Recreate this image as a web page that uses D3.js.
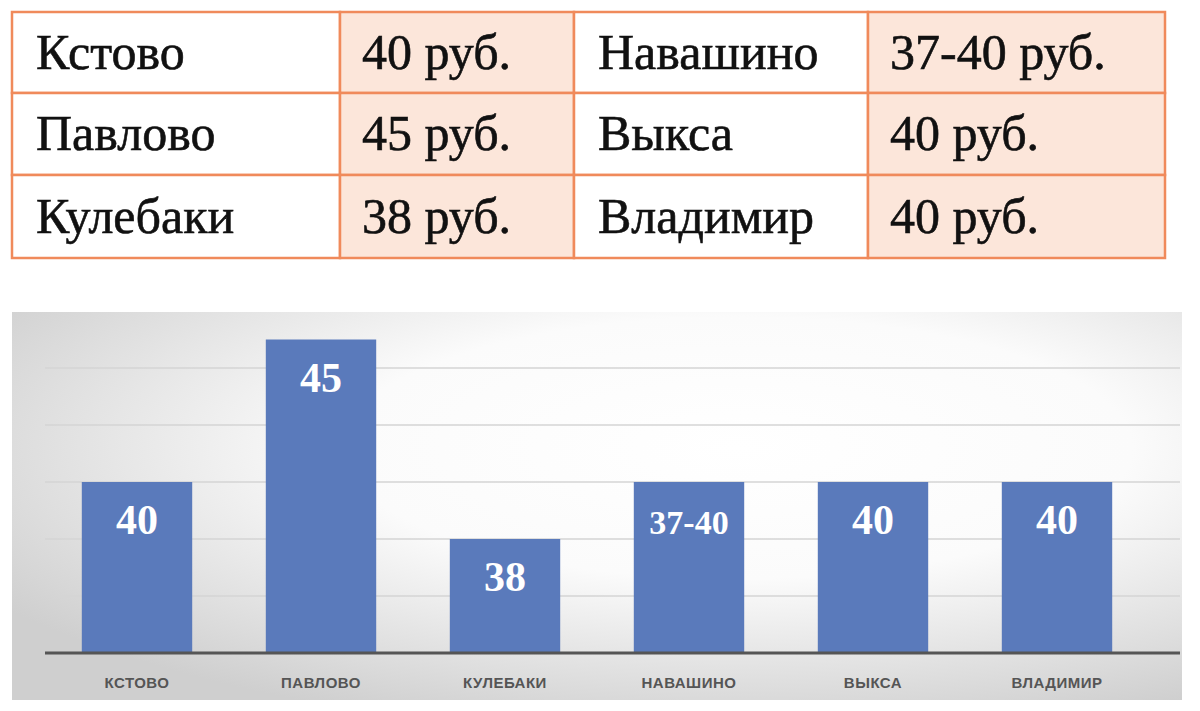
<!DOCTYPE html>
<html><head><meta charset="utf-8">
<script src="https://cdn.jsdelivr.net/npm/d3@7"></script>
<style>body{margin:0;background:#fff}</style></head>
<body><svg id="c" width="1200" height="711"></svg>
<script>
const cities = ["Кстово","Павлово","Кулебаки","Навашино","Выкса","Владимир"];
const tablePrices = ["40 руб.","45 руб.","38 руб.","37-40 руб.","40 руб.","40 руб."];
const values = [40,45,38,40,40,40];
const valueLabels = ["40","45","38","37-40","40","40"];
const axisLabels = ["КСТОВО","ПАВЛОВО","КУЛЕБАКИ","НАВАШИНО","ВЫКСА","ВЛАДИМИР"];
const gridTicks = [36,38,40,42,44];

const svg = d3.select("#c");
const colX = [12,340,574,868,1165], rowY = [12,93,175,258];
const tg = svg.append("g");
for (let r=0;r<3;r++){
  for (let c=0;c<4;c++){
    const idx = r + (c>=2?3:0);
    const isPrice = c%2===1;
    tg.append("rect").attr("x",colX[c]).attr("y",rowY[r]).attr("width",colX[c+1]-colX[c]).attr("height",rowY[r+1]-rowY[r])
      .attr("fill",isPrice?"#fce6da":"#fff").attr("stroke","#f08a5b").attr("stroke-width",2.5);
    tg.append("text").attr("x",colX[c]+(isPrice?22:24)).attr("y",(rowY[r]+rowY[r+1])/2+16)
      .attr("font-family","Liberation Serif").attr("font-size",50).attr("fill","#111")
      .attr("stroke","#111").attr("stroke-width",0.6)
      .text(isPrice?tablePrices[idx]:cities[idx]);
  }
}
const defs = svg.append("defs");
const rg = defs.append("radialGradient").attr("id","bg").attr("cx","0.62").attr("cy","0.35").attr("r","0.75");
rg.append("stop").attr("offset","0").attr("stop-color","#ffffff");
rg.append("stop").attr("offset","0.45").attr("stop-color","#fbfbfb");
rg.append("stop").attr("offset","1").attr("stop-color","#cfcfcf");
svg.append("rect").attr("x",12).attr("y",312).attr("width",1170).attr("height",388).attr("fill","url(#bg)");

const x = d3.scaleBand().domain(axisLabels).range([45,1149]).paddingInner(0.4).paddingOuter(0.2);
const y = d3.scaleLinear().domain([34,46]).range([653,311]);
const g = svg.append("g");
g.selectAll(".grid").data(gridTicks).join("line").attr("x1",45).attr("x2",1180)
  .attr("y1",d=>y(d)).attr("y2",d=>y(d)).attr("stroke","#d4d4d4").attr("stroke-width",1.5);
g.selectAll(".bar").data(values).join("rect").attr("x",(d,i)=>x(axisLabels[i])).attr("width",x.bandwidth())
  .attr("y",d=>y(d)).attr("height",d=>y(34)-y(d)).attr("fill","#5a7abb");
g.append("line").attr("x1",45).attr("x2",1180).attr("y1",y(34)).attr("y2",y(34)).attr("stroke","#555").attr("stroke-width",3);
g.selectAll(".vl").data(values).join("text").attr("x",(d,i)=>x(axisLabels[i])+x.bandwidth()/2).attr("y",d=>y(d)+52)
  .attr("text-anchor","middle").attr("font-family","Liberation Serif").attr("font-weight","bold").attr("fill","#fff")
  .attr("font-size",(d,i)=>valueLabels[i].length>2?34:42).text((d,i)=>valueLabels[i]);
const xa = g.append("g").attr("transform",`translate(0,${y(34)})`).call(d3.axisBottom(x).tickSize(0).tickPadding(24));
xa.select(".domain").remove();
xa.selectAll("text").attr("font-family","Liberation Sans").attr("font-weight","bold").attr("font-size",15)
  .attr("letter-spacing",0.5).attr("fill","#555");
</script></body></html>
